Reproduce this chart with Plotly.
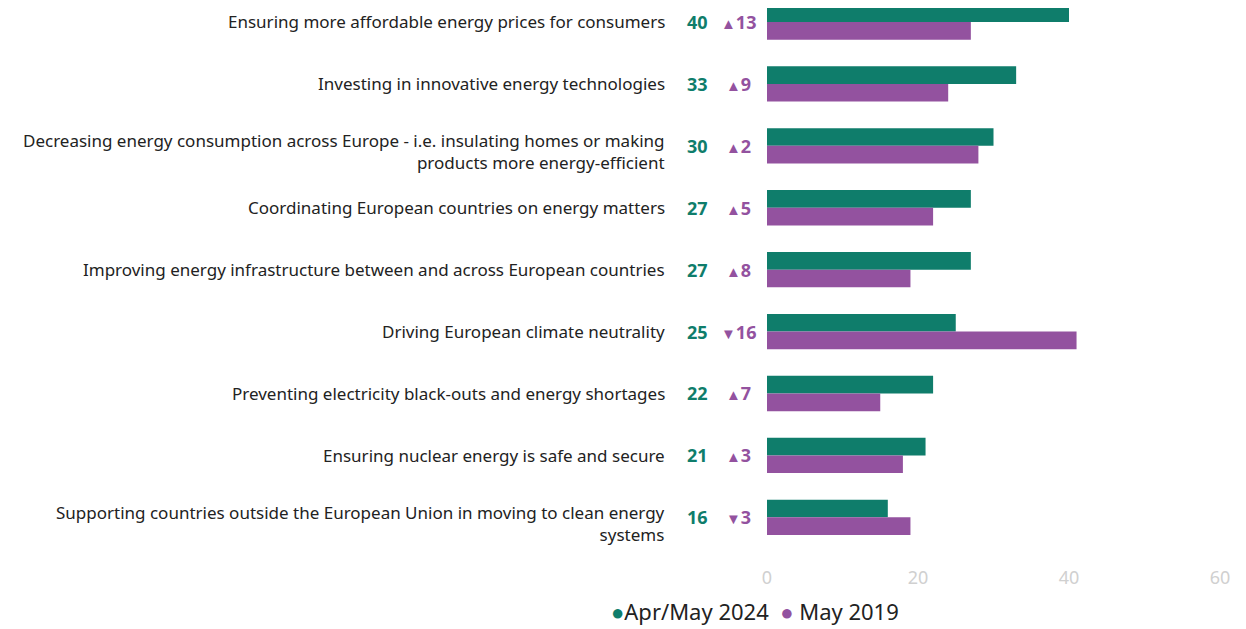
import plotly.graph_objects as go

# Datos
categorias = [
    "Ensuring more affordable energy prices for consumers",
    "Investing in innovative energy technologies",
    "Decreasing energy consumption across Europe - i.e. insulating homes or making<br>products more energy-efficient",
    "Coordinating European countries on energy matters",
    "Improving energy infrastructure between and across European countries",
    "Driving European climate neutrality",
    "Preventing electricity black-outs and energy shortages",
    "Ensuring nuclear energy is safe and secure",
    "Supporting countries outside the European Union in moving to clean energy<br>systems",
]
valores_2024 = [40, 33, 30, 27, 27, 25, 22, 21, 16]
valores_2019 = [27, 24, 28, 22, 19, 41, 15, 18, 19]
cambios = [13, 9, 2, 5, 8, -16, 7, 3, -3]
ticks_x = [0, 20, 40, 60]
series = ["Apr/May 2024", "May 2019"]

VERDE = "#0F7D6B"
MORADO = "#93529F"
FUENTE = "Noto Sans"

pos = list(range(len(categorias)))

fig = go.Figure()
fig.add_trace(go.Bar(y=pos, x=valores_2024, orientation="h", marker_color=VERDE,
                     marker_line_width=0, name=series[0], showlegend=False, hoverinfo="x"))
fig.add_trace(go.Bar(y=pos, x=valores_2019, orientation="h", marker_color=MORADO,
                     marker_line_width=0, name=series[1], showlegend=False, hoverinfo="x"))

# Etiquetas de categoria, valores y cambios (x en coordenadas del papel)
for i, cat in enumerate(categorias):
    desplaz = -6 if "<br>" in cat else 0
    fig.add_annotation(x=-0.2208, y=i, xref="paper", yref="y", text=cat, showarrow=False,
                       xanchor="right", align="right", yshift=desplaz,
                       font=dict(family=FUENTE, size=17, color="#222222"))
    fig.add_annotation(x=-0.1545, y=i, xref="paper", yref="y",
                       text="<b>%d</b>" % valores_2024[i], showarrow=False, xanchor="center",
                       font=dict(family=FUENTE, size=18, color=VERDE))
    flecha = "▲" if cambios[i] > 0 else "▼"
    txt = '<span style="font-size:15px">%s</span><b>%d</b>' % (flecha, abs(cambios[i]))
    fig.add_annotation(x=-0.064, y=i, xref="paper", yref="y", text=txt, showarrow=False,
                       xanchor="center", font=dict(family=FUENTE, size=18, color=MORADO))

# Leyenda manual con circulos
ley = ('<span style="color:%s">●</span>%s  <span style="color:%s">●</span> %s'
       % (VERDE, series[0], MORADO, series[1]))
fig.add_annotation(x=-0.026, y=-0.082, xref="paper", yref="paper", text=ley,
                   showarrow=False, xanchor="center", yanchor="middle",
                   font=dict(family=FUENTE, size=22, color="#222222"))

fig.update_layout(
    width=1238, height=621,
    margin=dict(l=759, r=26, t=0, b=64, autoexpand=False),
    barmode="group", bargap=0.43, bargroupgap=0,
    plot_bgcolor="white", paper_bgcolor="white",
    font=dict(family=FUENTE),
    showlegend=False,
    xaxis=dict(range=[0, 60], tickvals=ticks_x, showgrid=False, zeroline=False,
               showline=False, tickfont=dict(family=FUENTE, size=18, color="#D0D0D0")),
    yaxis=dict(range=[8.77, -0.226], showticklabels=False, showgrid=False,
               zeroline=False, showline=False),
)

fig.write_html("out.html")
